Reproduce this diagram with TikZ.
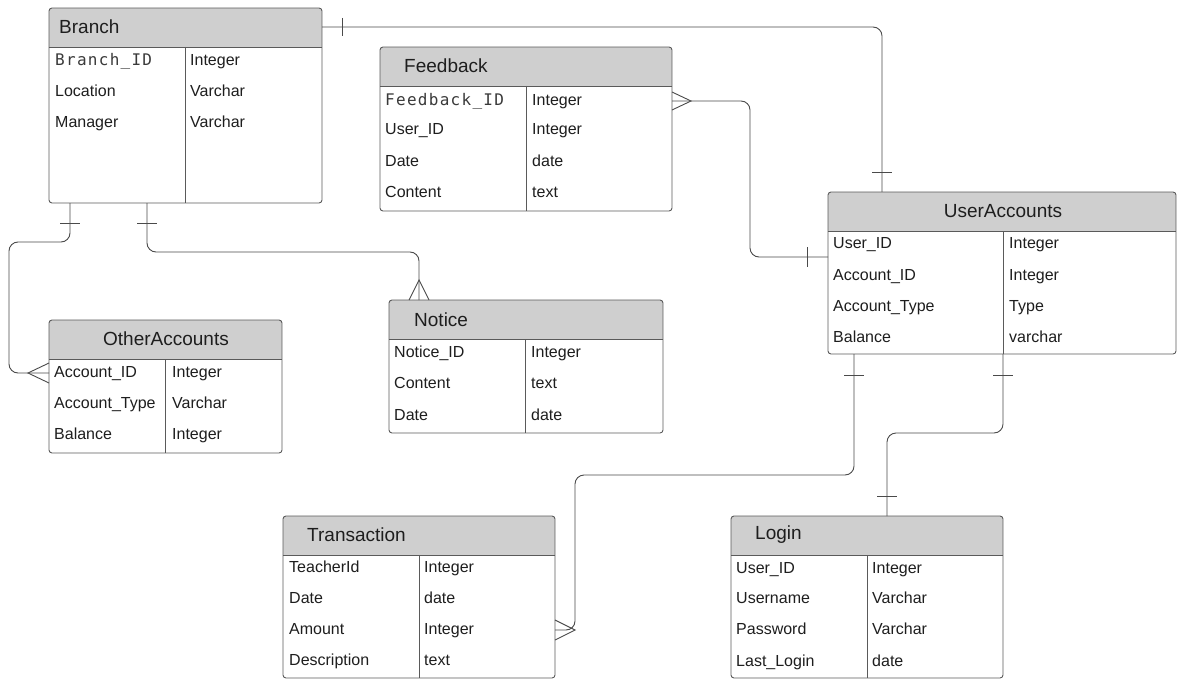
\documentclass[tikz,border=0pt]{standalone}
\usepackage{fontspec}
\setmainfont{Liberation Sans}
\newfontfamily\keyfont[LetterSpace=8]{DejaVu Sans Mono}
\usepackage{xcolor}
\usepackage{tikz}
\usetikzlibrary{calc}

\definecolor{headgray}{HTML}{CFCFCF}
\definecolor{boxgray}{HTML}{5A5A5A}
\definecolor{linegray}{HTML}{4A4A4A}
\definecolor{textdark}{HTML}{1E1E1E}
\definecolor{keygray}{HTML}{3A3A3A}

\begin{document}
\begin{tikzpicture}[x=1pt, y=-1pt,
  entity/.style={draw=boxgray, line width=0.9pt, rounded corners=3pt, fill=white, anchor=north west, inner sep=0pt, outer sep=0pt,
    path picture={\fill[headgray, sharp corners] (path picture bounding box.north west) rectangle ([yshift=-39pt]path picture bounding box.north east);
      \draw[boxgray, line width=0.9pt, sharp corners] ([yshift=-39pt]path picture bounding box.north west) -- ([yshift=-39pt]path picture bounding box.north east);}},
  divider/.style={draw=boxgray, line width=0.9pt},
  title/.style={inner sep=0pt, font=\fontsize{19}{22}\selectfont, text=textdark},
  field/.style={anchor=west, inner sep=0pt, text height=12pt, text depth=3pt, font=\fontsize{16}{18}\selectfont, text=textdark},
  keyfield/.style={field, font=\keyfont\fontsize{16}{18}\selectfont, text=keygray},
  link/.style={draw=linegray, line width=0.9pt, rounded corners=9pt},
  tickline/.style={draw=linegray, line width=0.9pt}]
\useasboundingbox (0,0) rectangle (1177,679);

% tables
\node[entity, minimum width=273, minimum height=195] (branch) at (49,8) {};
\draw[divider] ($(branch.north west)+(136,39)$) -- ($(branch.south west)+(136,0)$);
\node[title, anchor=west] (branchtitle) at (59,27) {Branch};
\node[keyfield] (brid) at (55,61) {Branch\_ID};
\node[field] (brloc) at (55,92) {Location};
\node[field] (brmgr) at (55,123) {Manager};
\node[field] (bridt) at (190,61) {Integer};
\node[field] (brloct) at (190,92) {Varchar};
\node[field] (brmgrt) at (190,123) {Varchar};

\node[entity, minimum width=292, minimum height=164] (feedback) at (380,47) {};
\draw[divider] ($(feedback.north west)+(146,39)$) -- ($(feedback.south west)+(146,0)$);
\node[title, anchor=west] (fbtitle) at (404,66) {Feedback};
\node[keyfield] (fbid) at (385,101) {Feedback\_ID};
\node[field] (fbuser) at (385,130) {User\_ID};
\node[field] (fbdate) at (385,162) {Date};
\node[field] (fbcont) at (385,193) {Content};
\node[field] (fbidt) at (532,101) {Integer};
\node[field] (fbusert) at (532,130) {Integer};
\node[field] (fbdatet) at (532,162) {date};
\node[field] (fbcontt) at (532,193) {text};

\node[entity, minimum width=348, minimum height=162] (useraccts) at (828,192) {};
\draw[divider] ($(useraccts.north west)+(175,39)$) -- ($(useraccts.south west)+(175,0)$);
\node[title] (uatitle) at (1003,211) {UserAccounts};
\node[field] (uauser) at (833,244) {User\_ID};
\node[field] (uaacc) at (833,276) {Account\_ID};
\node[field] (uatype) at (833,307) {Account\_Type};
\node[field] (uabal) at (833,338) {Balance};
\node[field] (uausert) at (1009,244) {Integer};
\node[field] (uaacct) at (1009,276) {Integer};
\node[field] (uatypet) at (1009,307) {Type};
\node[field] (uabalt) at (1009,338) {varchar};

\node[entity, minimum width=233, minimum height=133] (otheraccts) at (49,320) {};
\draw[divider] ($(otheraccts.north west)+(116,39)$) -- ($(otheraccts.south west)+(116,0)$);
\node[title] (oatitle) at (166,339) {OtherAccounts};
\node[field] (oaid) at (54,373) {Account\_ID};
\node[field] (oatype) at (54,404) {Account\_Type};
\node[field] (oabal) at (54,435) {Balance};
\node[field] (oaidt) at (172,373) {Integer};
\node[field] (oatypet) at (172,404) {Varchar};
\node[field] (oabalt) at (172,435) {Integer};

\node[entity, minimum width=274, minimum height=133] (notice) at (389,300) {};
\draw[divider] ($(notice.north west)+(136,39)$) -- ($(notice.south west)+(136,0)$);
\node[title, anchor=west] (nttitle) at (414,320) {Notice};
\node[field] (ntid) at (394,353) {Notice\_ID};
\node[field] (ntcont) at (394,384) {Content};
\node[field] (ntdate) at (394,416) {Date};
\node[field] (ntidt) at (531,353) {Integer};
\node[field] (ntcontt) at (531,384) {text};
\node[field] (ntdatet) at (531,416) {date};

\node[entity, minimum width=272, minimum height=162] (transaction) at (283,516) {};
\draw[divider] ($(transaction.north west)+(136,39)$) -- ($(transaction.south west)+(136,0)$);
\node[title, anchor=west] (trtitle) at (307,535) {Transaction};
\node[field] (trteach) at (289,568) {TeacherId};
\node[field] (trdate) at (289,599) {Date};
\node[field] (tramount) at (289,630) {Amount};
\node[field] (trdesc) at (289,661) {Description};
\node[field] (trteacht) at (424,568) {Integer};
\node[field] (trdatet) at (424,599) {date};
\node[field] (tramountt) at (424,630) {Integer};
\node[field] (trdesct) at (424,661) {text};

\node[entity, minimum width=272, minimum height=162] (login) at (731,516) {};
\draw[divider] ($(login.north west)+(136,39)$) -- ($(login.south west)+(136,0)$);
\node[title, anchor=west] (lgtitle) at (755,535) {Login};
\node[field] (lguser) at (736,569) {User\_ID};
\node[field] (lgname) at (736,599) {Username};
\node[field] (lgpass) at (736,630) {Password};
\node[field] (lglast) at (736,662) {Last\_Login};
\node[field] (lgusert) at (872,569) {Integer};
\node[field] (lgnamet) at (872,599) {Varchar};
\node[field] (lgpasst) at (872,630) {Varchar};
\node[field] (lglastt) at (872,662) {date};

% relations
\draw[link] (branchtitle -| branch.east) -| ($(useraccts.north west)+(54,0)$);
\draw[tickline] ($(branchtitle -| branch.east)+(20,-9)$) -- ++(0,18);
\draw[tickline] ($(useraccts.north west)+(44,-20)$) -- ++(20,0);

\draw[link] ($(branch.south west)+(21,0)$) |- ($(otheraccts.north west)+(-40,-78)$) |- (oaid -| otheraccts.west);
\draw[tickline] ($(branch.south west)+(11,20)$) -- ++(20,0);
\draw[tickline] ($(oaid -| otheraccts.west)+(0,-10)$) -- ($(oaid -| otheraccts.west)+(-21,0)$) -- ($(oaid -| otheraccts.west)+(0,10)$);

\draw[link] ($(branch.south west)+(98,0)$) |- ($(notice.north west)+(30,-48)$) -- ($(notice.north west)+(30,0)$);
\draw[tickline] ($(branch.south west)+(88,20)$) -- ++(20,0);
\draw[tickline] ($(notice.north west)+(20,0)$) -- ($(notice.north west)+(30,-20)$) -- ($(notice.north west)+(40,0)$);

\draw[link] (fbid -| feedback.east) -| ($(useraccts.north west)+(-78,65)$) -- ($(useraccts.north west)+(0,65)$);
\draw[tickline] ($(useraccts.north west)+(-21,55)$) -- ++(0,20);
\draw[tickline] ($(fbid -| feedback.east)+(0,-9)$) -- ($(fbid -| feedback.east)+(19,0)$) -- ($(fbid -| feedback.east)+(0,9)$);

\draw[link] ($(useraccts.south west)+(26,0)$) |- ($(transaction.north east)+(20,-41)$) |- (tramount -| transaction.east);
\draw[tickline] ($(useraccts.south west)+(16,21)$) -- ++(20,0);
\draw[tickline] ($(tramount -| transaction.east)+(0,-10)$) -- ($(tramount -| transaction.east)+(20,0)$) -- ($(tramount -| transaction.east)+(0,10)$);

\draw[link] ($(useraccts.south west)+(175,0)$) |- ($(login.north west)+(156,-83)$) -- ($(login.north west)+(156,0)$);
\draw[tickline] ($(useraccts.south west)+(165,21)$) -- ++(20,0);
\draw[tickline] ($(login.north west)+(146,-20)$) -- ++(20,0);
\end{tikzpicture}
\end{document}
